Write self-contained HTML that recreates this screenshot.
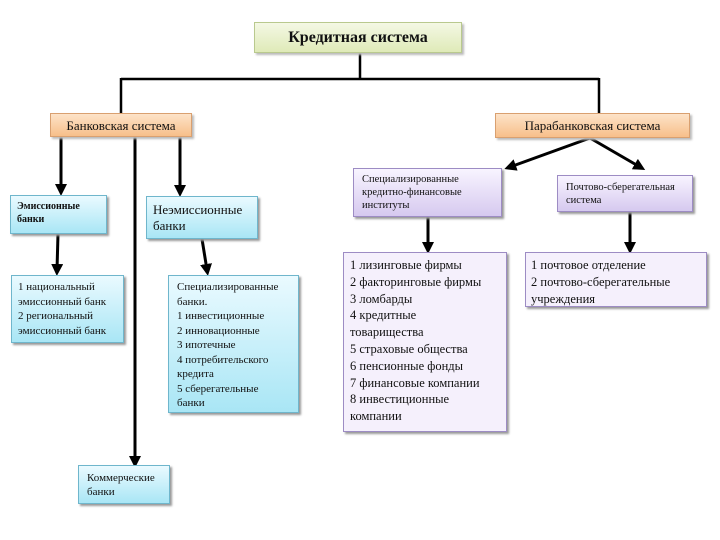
<!DOCTYPE html>
<html><head><meta charset="utf-8"><style>
body{margin:0;width:720px;height:540px;background:#fff;position:relative;overflow:hidden;font-family:"Liberation Serif",serif;}
.b{position:absolute;box-sizing:border-box;color:#111;line-height:1.25;}
.g{background:linear-gradient(#f4f8e4,#dfeab8);border:1px solid #b9c98e;box-shadow:2px 2px 2px #bbb;}
.o{background:linear-gradient(#fde3c8,#f7bf8a);border:1px solid #d9a070;box-shadow:2px 2px 2px #bbb;}
.c{background:linear-gradient(#eafaff,#a9e6f5);border:1px solid #6fb6cc;box-shadow:2px 2px 2px #999;}
.p{background:linear-gradient(#f8f4ff,#d6c9ef);border:1px solid #9d8cc4;box-shadow:2px 2px 2px #999;}
.pl{background:#f5f0fc;border:1px solid #9d8cc4;box-shadow:2px 2px 2px #999;}
svg{position:absolute;left:0;top:0}
</style></head><body>
<svg width="720" height="540">
<defs><marker id="a" markerWidth="4" markerHeight="4" refX="2" refY="2" orient="auto" markerUnits="strokeWidth"><path d="M0,0 L4,2 L0,4 z" fill="#000"/></marker></defs>
<g stroke="#000" stroke-width="3" fill="none">
<path d="M360 53 V79 M121 79 H599 M121 78 V113 M599 78 V113" stroke-width="2.5"/>
<line x1="61" y1="137" x2="61" y2="190" marker-end="url(#a)"/>
<line x1="180" y1="137" x2="180" y2="191" marker-end="url(#a)"/>
<line x1="135" y1="137" x2="135" y2="462" marker-end="url(#a)"/>
<line x1="58" y1="234" x2="57" y2="270" marker-end="url(#a)"/>
<line x1="202" y1="239" x2="207" y2="270" marker-end="url(#a)"/>
<line x1="590" y1="138" x2="510" y2="167" marker-end="url(#a)"/>
<line x1="590" y1="138" x2="640" y2="167" marker-end="url(#a)"/>
<line x1="428" y1="217" x2="428" y2="248" marker-end="url(#a)"/>
<line x1="630" y1="212" x2="630" y2="248" marker-end="url(#a)"/>
</g></svg>
<div class="b g" style="left:254px;top:22px;width:208px;height:31px;text-align:center;font-weight:bold;font-size:16px;line-height:30px">Кредитная система</div>
<div class="b o" style="left:50px;top:113px;width:142px;height:24px;text-align:center;font-size:13px;line-height:23px">Банковская система</div>
<div class="b o" style="left:495px;top:113px;width:195px;height:25px;text-align:center;font-size:13px;line-height:24px">Парабанковская система</div>
<div class="b c" style="left:10px;top:195px;width:97px;height:39px;font-size:10px;font-weight:bold;padding:5px 6px">Эмиссионные банки</div>
<div class="b c" style="left:146px;top:196px;width:112px;height:43px;font-size:13px;padding:5px 6px">Неэмиссионные банки</div>
<div class="b p" style="left:353px;top:168px;width:149px;height:49px;font-size:10.5px;padding:4px 8px">Специализированные кредитно-финансовые институты</div>
<div class="b p" style="left:557px;top:175px;width:136px;height:37px;font-size:10.5px;padding:5px 8px">Почтово-сберегательная система</div>
<div class="b c" style="left:11px;top:275px;width:113px;height:68px;font-size:11px;padding:4px 6px;line-height:14.5px">1 национальный эмиссионный банк<br>2 региональный эмиссионный банк</div>
<div class="b c" style="left:168px;top:275px;width:131px;height:138px;font-size:11px;padding:4px 8px;line-height:14.5px">Специализированные банки.<br>1 инвестиционные<br>2 инновационные<br>3 ипотечные<br>4 потребительского<br>кредита<br>5 сберегательные<br>банки</div>
<div class="b c" style="left:78px;top:465px;width:92px;height:39px;font-size:11px;padding:5px 8px;line-height:14px">Коммерческие банки</div>
<div class="b pl" style="left:343px;top:252px;width:164px;height:180px;font-size:12.5px;padding:4px 6px;line-height:16.8px">1 лизинговые фирмы<br>2 факторинговые фирмы<br>3 ломбарды<br>4 кредитные<br>товарищества<br>5 страховые общества<br>6 пенсионные фонды<br>7 финансовые компании<br>8 инвестиционные<br>компании</div>
<div class="b pl" style="left:525px;top:252px;width:182px;height:55px;font-size:12.5px;padding:4px 5px;line-height:16.8px">1 почтовое отделение<br>2 почтово-сберегательные<br>учреждения</div>
</body></html>
